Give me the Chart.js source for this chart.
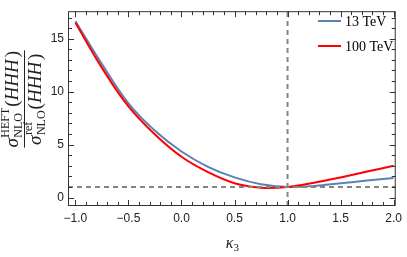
<!DOCTYPE html>
<html>
<head>
<meta charset="utf-8">
<script src="https://cdn.jsdelivr.net/npm/chart.js@4.4.0/dist/chart.umd.min.js"></script>
<style>
	html, body { margin: 0; padding: 0; background: #fff; }
	#wrap { width: 407px; height: 257px; }
</style>
</head>
<body>
<div id="wrap"><canvas id="myChart"></canvas></div>
<script>
const ctx = document.getElementById('myChart');

const kappa = [-1.0, -0.75, -0.5, -0.25, 0.0, 0.25, 0.5, 0.75, 1.0, 1.25, 1.5, 1.75, 2.0];
const ratio13 = [16.65, 12.6, 8.9, 6.3, 4.35, 2.9, 1.9, 1.25, 1.0, 1.1, 1.35, 1.6, 1.85];
const ratio100 = [16.5, 12.25, 8.6, 5.95, 3.85, 2.4, 1.35, 0.93, 1.0, 1.4, 1.9, 2.45, 3.0];
const seriesLabels = ['13 TeV', '100 TeV'];
const xTicks = [-1.0, -0.5, 0.0, 0.5, 1.0, 1.5, 2.0];
const yTicks = [0, 5, 10, 15];
const refKappa = 1;
const refRatio = 1;

const xMin = -1.07, xMax = 2.02, yMin = -0.8, yMax = 17.6;
const frameColor = '#333';
const labelColor = '#222';
const serif = '"Liberation Serif"';

const toPoints = (xs, ys) => xs.map((x, i) => ({ x: x, y: ys[i] }));

const framePlugin = {
	id: 'frame',
	afterDraw: (chart) => {
		const { ctx: c, chartArea: a, scales } = chart;
		const xs = scales.x, ys = scales.y;
		c.save();
		c.setLineDash([]);
		c.strokeStyle = frameColor;
		c.lineWidth = 1;
		c.strokeRect(a.left + 0.5, a.top + 0.5, a.right - a.left - 1, a.bottom - a.top - 1);
		c.beginPath();
		for (let i = -10; i <= 20; i++) {
			const v = i / 10;
			const len = i % 5 === 0 ? 6 : 4;
			const px = Math.round(xs.getPixelForValue(v)) + 0.5;
			c.moveTo(px, a.bottom); c.lineTo(px, a.bottom - len);
			c.moveTo(px, a.top); c.lineTo(px, a.top + len);
		}
		for (let i = 0; i <= 17; i++) {
			const len = i % 5 === 0 ? 6 : 4;
			const py = Math.round(ys.getPixelForValue(i)) + 0.5;
			c.moveTo(a.left, py); c.lineTo(a.left + len, py);
			c.moveTo(a.right, py); c.lineTo(a.right - len, py);
		}
		c.stroke();

		// legend
		const items = chart.data.datasets.filter((d) => d.showInLegend);
		items.forEach((d, i) => {
			const y = 21 + i * 25;
			c.strokeStyle = d.borderColor;
			c.lineWidth = d.borderWidth;
			c.beginPath();
			c.moveTo(318, y); c.lineTo(341, y);
			c.stroke();
			c.fillStyle = '#000';
			c.font = '14px ' + serif;
			c.textBaseline = 'middle';
			c.fillText(d.label, 345, y + 1);
		});

		// x axis title
		c.fillStyle = '#222';
		c.textBaseline = 'alphabetic';
		c.font = 'italic 16px ' + serif;
		const kx = (a.left + a.right) / 2 - 6;
		c.fillText('κ', kx, 248);
		const kw = c.measureText('κ').width;
		c.font = '11px ' + serif;
		c.fillText('3', kx + kw, 251);

		// y axis title (fraction)
		c.translate(24, 99);
		c.rotate(-Math.PI / 2);
		const big = 19, small = 12;
		const measure = (sup) => {
			c.font = 'italic ' + big + 'px ' + serif;
			const sw = c.measureText('σ').width;
			const hw = c.measureText('HHH').width + 3;
			c.font = small + 'px ' + serif;
			const scriptW = Math.max(c.measureText(sup).width, c.measureText('NLO').width) + 1;
			c.font = big + 'px ' + serif;
			const pw = c.measureText('(').width;
			return { sw, scriptW, pw, hw, total: sw + scriptW + 2 * pw + hw };
		};
		const render = (sup, baseY, m, x0) => {
			let x = x0;
			c.font = 'italic ' + big + 'px ' + serif;
			c.fillText('σ', x, baseY);
			x += m.sw + 0.5;
			c.font = small + 'px ' + serif;
			c.fillText(sup, x, baseY - 9);
			c.fillText('NLO', x, baseY + 4);
			x += m.scriptW;
			c.font = big + 'px ' + serif;
			c.fillText('(', x, baseY);
			x += m.pw;
			c.font = 'italic ' + big + 'px ' + serif;
			c.fillText('HHH', x, baseY);
			x += m.hw - 1;
			c.font = big + 'px ' + serif;
			c.fillText(')', x, baseY);
		};
		const mNum = measure('HEFT');
		const mDen = measure('ref');
		const w = Math.max(mNum.total, mDen.total);
		render('HEFT', -6, mNum, -mNum.total / 2);
		render('ref', 17, mDen, -mDen.total / 2);
		c.strokeStyle = '#222';
		c.lineWidth = 1;
		c.beginPath();
		c.moveTo(-w / 2, 0.5); c.lineTo(w / 2, 0.5);
		c.stroke();
		c.restore();
	},
};

new Chart(ctx, {
	type: 'scatter',
	data: {
		datasets: [
			{
				label: seriesLabels[0],
				data: toPoints(kappa, ratio13),
				showLine: true,
				borderColor: '#5E81B5',
				borderWidth: 2,
				pointRadius: 0,
				tension: 0.4,
				showInLegend: true,
				order: 3,
			},
			{
				label: seriesLabels[1],
				data: toPoints(kappa, ratio100),
				showLine: true,
				borderColor: '#FF0000',
				borderWidth: 2,
				pointRadius: 0,
				tension: 0.4,
				showInLegend: true,
				order: 2,
			},
			{
				label: 'ref y',
				data: [{ x: xMin, y: refRatio }, { x: xMax, y: refRatio }],
				showLine: true,
				borderColor: '#858585',
				borderWidth: 2,
				borderDash: [5, 4],
				pointRadius: 0,
				order: 1,
			},
			{
				label: 'ref x',
				data: [{ x: refKappa, y: yMin }, { x: refKappa, y: yMax }],
				showLine: true,
				borderColor: '#858585',
				borderWidth: 2,
				borderDash: [5, 4],
				pointRadius: 0,
				order: 0,
			},
		],
	},
	options: {
		responsive: true,
		maintainAspectRatio: false,
		animation: false,
		layout: { padding: { top: 0, right: 8, left: 0, bottom: 0 } },
		plugins: {
			legend: { display: false },
			tooltip: { enabled: false },
		},
		scales: {
			x: {
				type: 'linear',
				min: xMin,
				max: xMax,
				afterBuildTicks: (s) => { s.ticks = xTicks.map((v) => ({ value: v })); },
				afterFit: (s) => { s.height = 51; },
				grid: { display: false, drawTicks: false },
				border: { display: false },
				ticks: {
					color: labelColor,
					font: { family: '"Liberation Sans"', size: 12 },
					padding: 5,
					maxRotation: 0,
					callback: (v) => (v < 0 ? '\u2212' : '') + Math.abs(v).toFixed(1),
				},
			},
			y: {
				type: 'linear',
				min: yMin,
				max: yMax,
				afterBuildTicks: (s) => { s.ticks = yTicks.map((v) => ({ value: v })); },
				afterFit: (s) => { s.width = 68; },
				grid: { display: false, drawTicks: false },
				border: { display: false },
				ticks: {
					color: labelColor,
					font: { family: '"Liberation Sans"', size: 12 },
					padding: 4,
				},
			},
		},
	},
	plugins: [framePlugin],
});
</script>
</body>
</html>
